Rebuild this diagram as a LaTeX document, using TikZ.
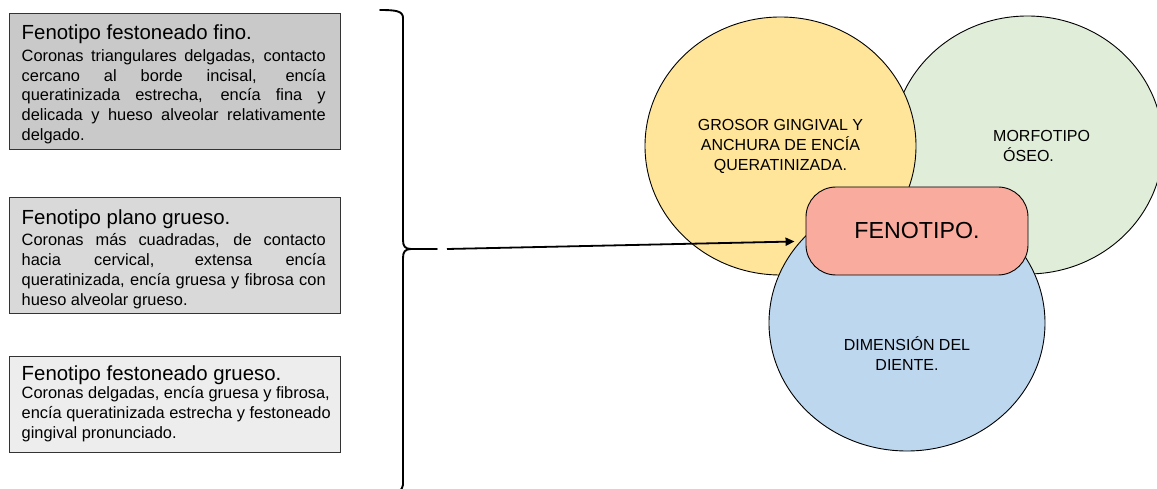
\documentclass[tikz,border=0pt]{standalone}
\usepackage{fontspec}
\setmainfont{Liberation Sans}
\usetikzlibrary{shapes.geometric,arrows.meta}

\definecolor{fillA}{HTML}{C9C9C9}
\definecolor{fillB}{HTML}{D9D9D9}
\definecolor{fillC}{HTML}{EDEDED}
\definecolor{boxline}{HTML}{333333}
\definecolor{gumyellow}{HTML}{FFE599}
\definecolor{bonegreen}{HTML}{E0EDD8}
\definecolor{toothblue}{HTML}{BDD7EE}
\definecolor{phenopink}{HTML}{F9AC9E}

\begin{document}
\begin{tikzpicture}[x=1pt,y=-1pt,
  infobox/.style={draw=boxline, line width=1.3pt, rectangle, inner sep=0pt,
    anchor=north west, minimum width=331pt},
  titletext/.style={inner sep=0pt, anchor=base west,
    font=\fontsize{20.4}{24}\selectfont},
  bodytext/.style={inner sep=0pt, anchor=base west,
    font=\fontsize{16.4}{19.7}\selectfont},
  blob/.style={ellipse, draw=black, line width=0.9pt, inner sep=0pt},
  caption/.style={inner sep=0pt, align=center,
    font=\fontsize{16}{20}\selectfont},
  brace/.style={line width=1.9pt, line cap=round},
  link/.style={line width=1.8pt, -{Triangle[length=9pt,width=8pt]}}
]
\useasboundingbox (0,0) rectangle (1157,489);

% ---- descriptive boxes on the left ----
\node[infobox, fill=fillA, minimum height=136pt] (b1) at (9,13) {};
\node[titletext] (t1) at (21.5,39.5) {Fenotipo festoneado fino.};
\node[bodytext] (d1) at (21.5,61.5) {\parbox[t]{304pt}{\hyphenpenalty=10000
  Coronas triangulares delgadas, contacto\linebreak
  cercano al borde incisal, encía\linebreak
  queratinizada estrecha, encía fina y\linebreak
  delicada y hueso alveolar relativamente\linebreak
  delgado.}};

\node[infobox, fill=fillB, minimum height=116pt] (b2) at (9,197) {};
\node[titletext] (t2) at (21.5,224.5) {Fenotipo plano grueso.};
\node[bodytext] (d2) at (21.5,246) {\parbox[t]{304pt}{\hyphenpenalty=10000
  Coronas más cuadradas, de contacto\linebreak
  hacia cervical, extensa encía\linebreak
  queratinizada, encía gruesa y fibrosa con\linebreak
  hueso alveolar grueso.}};

\node[infobox, fill=fillC, minimum height=96pt] (b3) at (9,356) {};
\node[titletext] (t3) at (21.5,380.7) {Fenotipo festoneado grueso.};
\node[bodytext] (d3) at (21.5,398.7) {\parbox[t]{316pt}{\raggedright
  Coronas delgadas, encía gruesa y fibrosa,\\
  encía queratinizada estrecha y festoneado\\
  gingival pronunciado.}};

% ---- right brace gathering the three boxes ----
\coordinate (bracetip) at (437,249);
\draw[brace] (380,10) .. controls (396,10) and (403,11) .. (403,18)
  -- (403,240) .. controls (403,246) and (405,249) .. (411,249)
  .. controls (405,249) and (403,252) .. (403,258)
  -- (403,485) .. controls (403,491) and (396,493) .. (380,493);
\draw[brace] (411,249) -- (bracetip);

% ---- overlapping components of the phenotype ----
\node[blob, fill=bonegreen, minimum width=271pt, minimum height=258pt] (bone) at (1027.5,145) {};
\node[blob, fill=gumyellow, minimum width=271pt, minimum height=258pt] (gum) at (780.5,146) {};
\node[blob, fill=toothblue, minimum width=276pt, minimum height=256pt] (tooth) at (907,323) {};

\node[caption] (gumtext) at (780.5,146.3) {GROSOR GINGIVAL Y\\ANCHURA DE ENCÍA\\QUERATINIZADA.};
\node[caption, align=left, anchor=west] (bonetext) at (993,146) {MORFOTIPO\\\hspace*{10pt}ÓSEO.};
\node[caption] (toothtext) at (907,353.2) {DIMENSIÓN DEL\\DIENTE.};

\node[draw=black, line width=0.9pt, fill=phenopink, rounded corners=30pt,
  minimum width=222pt, minimum height=88pt, inner sep=0pt,
  font=\fontsize{23.2}{28}\selectfont] (fen) at (917,231) {FENOTIPO.};

% ---- arrow from the brace to the phenotype ----
\coordinate (linkstart) at (447,249);
\draw[link] (linkstart) -- ([xshift=-11pt,yshift=-10.5pt]fen.west);
\end{tikzpicture}
\end{document}
